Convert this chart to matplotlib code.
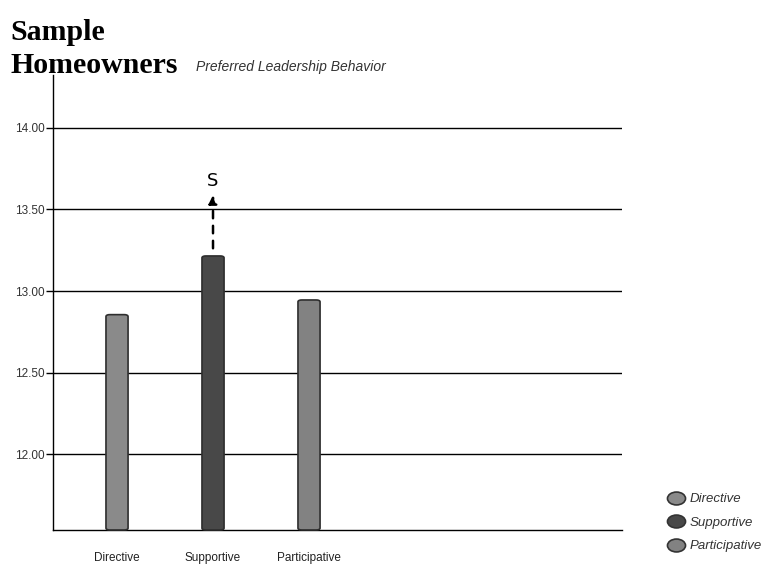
import matplotlib.pyplot as plt
from matplotlib.patches import FancyBboxPatch
from matplotlib.lines import Line2D
from matplotlib.path import Path
from matplotlib.transforms import Affine2D

categories = ['Directive', 'Supportive', 'Participative']
scores = [12.855, 13.215, 12.945]
bar_colors = ['#8a8a8a', '#484848', '#828282']
yticks = [12.00, 12.50, 13.00, 13.50, 14.00]
highlight = 'S'

fig = plt.figure(figsize=(7.69, 5.67), dpi=100)
ax = fig.add_axes([0.0689, 0.0653, 0.7399, 0.8024])

ymin, ymax = 11.534, 14.325
ax.set_xlim(-0.667, 5.26)
ax.set_ylim(ymin, ymax)

# horizontal grid
for v in yticks:
    ax.axhline(v, color='black', lw=1, zorder=1)

# rounded bars
w = 0.23
for i, (val, c) in enumerate(zip(scores, bar_colors)):
    box = FancyBboxPatch((i - w / 2, ymin), w, val - ymin,
                         boxstyle='round,pad=0,rounding_size=0.04',
                         mutation_aspect=0.294,
                         facecolor=c, edgecolor='#2e2e2e', lw=1.2, zorder=3,
                         clip_on=False)
    ax.add_patch(box)

# dashed arrow above the highest bar
top = max(scores)
k = scores.index(top)
ax.annotate('', xy=(k, top + 0.39), xytext=(k, top + 0.03),
            arrowprops=dict(arrowstyle='-|>', color='black', lw=1.8,
                            linestyle=(0, (3, 3)), mutation_scale=12))
ax.text(k, top + 0.46, highlight, ha='center', va='center', fontsize=13,
        color='black', family='DejaVu Sans')

ax.set_yticks(yticks)
ax.set_yticklabels(['%.2f' % v for v in yticks], fontsize=8.5, color='#333333',
                   family='Liberation Sans')
ax.set_xticks(range(len(categories)))
ax.set_xticklabels(categories, fontsize=8.5, color='#222222',
                   family='Liberation Sans')
ax.tick_params(axis='y', length=5, width=1, pad=1)
ax.tick_params(axis='x', length=0, pad=16)

for s in ['top', 'right']:
    ax.spines[s].set_visible(False)
ax.spines['left'].set_linewidth(1)
ax.spines['bottom'].set_linewidth(1)

# titles
fig.text(0.014, 0.929, 'Sample', fontsize=21.5, fontweight='bold',
         family='Liberation Serif', color='black')
fig.text(0.014, 0.872, 'Homeowners', fontsize=21.5, fontweight='bold',
         family='Liberation Serif', color='black')
fig.text(0.255, 0.874, 'Preferred Leadership Behavior', fontsize=10,
         style='italic', family='Liberation Sans', color='#333333')

# flattened ellipse marker for the legend
ellipse = Path.unit_circle().transformed(Affine2D().scale(1.4, 1.0))
handles = [Line2D([], [], ls='', marker=ellipse, markersize=13,
                  markerfacecolor=c, markeredgecolor='#333333',
                  markeredgewidth=1.2) for c in bar_colors]
leg = fig.legend(handles, categories, loc='upper left',
                 bbox_to_anchor=(0.862, 0.142), frameon=False,
                 prop={'family': 'Liberation Sans', 'style': 'italic',
                       'size': 9.5},
                 handlelength=1.0, handletextpad=0.5, labelspacing=0.85,
                 borderpad=0)
for t in leg.get_texts():
    t.set_color('#333333')

fig.savefig('out.png', dpi=100)
